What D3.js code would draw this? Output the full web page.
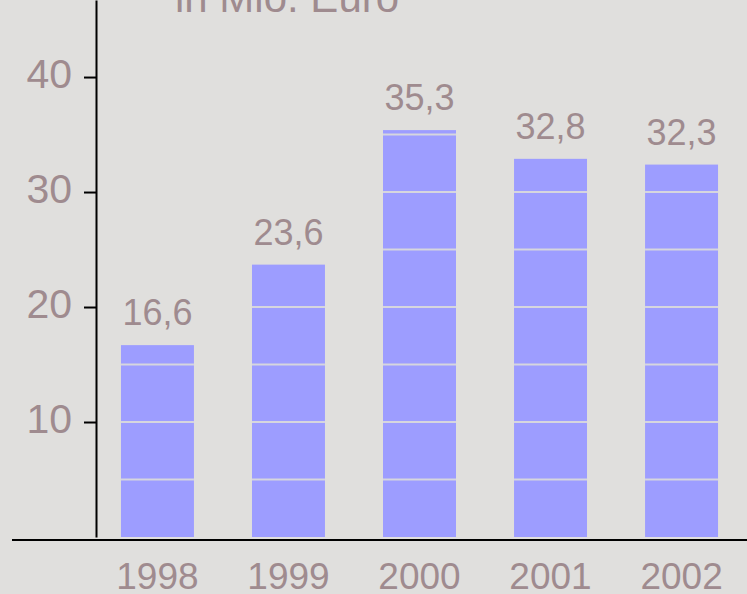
<!DOCTYPE html>
<html>
<head>
<meta charset="utf-8">
<script src="https://cdn.jsdelivr.net/npm/d3@7"></script>
<style>
  html, body { margin: 0; padding: 0; background: #e0dfdd; }
  svg { display: block; font-family: "Liberation Sans", Arial, sans-serif; }
</style>
</head>
<body>
<svg id="chart" width="747" height="594"></svg>
<script>

var years = ["1998", "1999", "2000", "2001", "2002"];
var values = [16.6, 23.6, 35.3, 32.8, 32.3];
var y_ticks = [10, 20, 30, 40];
var grid_steps = [5, 10, 15, 20, 25, 30, 35, 40, 45];
var title = "in Mio. Euro";

var text_color = "#9f8b8f";
var bar_color = "#9d9dff";

var svg = d3.select("#chart");

var x = d3.scaleBand().domain(years).range([92, 747])
    .paddingInner(0.443).paddingOuter(0.221);

var y = d3.scaleLinear().domain([0, 46.7]).range([537, 0]);

var comma = d3.formatLocale({decimal: ",", thousands: ".", grouping: [3], currency: ["", " €"]}).format(".1f");

// bars
svg.append("g").selectAll("rect")
    .data(values)
    .enter().append("rect")
    .attr("x", function(d, i) { return x(years[i]); })
    .attr("y", function(d) { return y(d) - 1; })
    .attr("width", x.bandwidth())
    .attr("height", function(d) { return y(0) - y(d) + 1; })
    .attr("fill", bar_color);

// light lines every 5 units, only over the bars
var grid = svg.append("g");
values.forEach(function(v, i) {
    grid.selectAll(null)
	.data(grid_steps.filter(function(s) { return s < v; }))
	.enter().append("line")
	.attr("x1", x(years[i]))
	.attr("x2", x(years[i]) + x.bandwidth())
	.attr("y1", function(s) { return y(s); })
	.attr("y2", function(s) { return y(s); })
	.attr("stroke", "#d6d6de")
	.attr("stroke-width", 2);
});

// value labels
svg.append("g").selectAll("text")
    .data(values)
    .enter().append("text")
    .attr("x", function(d, i) { return x(years[i]) + x.bandwidth() / 2; })
    .attr("y", function(d) { return y(d) - 21; })
    .attr("text-anchor", "middle")
    .attr("font-size", 36)
    .attr("fill", text_color)
    .text(function(d) { return comma(d); });

// y axis
var y_axis = svg.append("g")
    .attr("transform", "translate(96,0)")
    .call(d3.axisLeft(y).tickValues(y_ticks).tickSize(12).tickSizeOuter(0).tickPadding(12));

y_axis.select(".domain").attr("stroke", "#000").attr("stroke-width", 2);
y_axis.selectAll(".tick line").attr("stroke", "#000").attr("stroke-width", 2);
y_axis.selectAll(".tick text")
    .attr("font-size", 41)
    .attr("font-family", "Liberation Sans, Arial, sans-serif")
    .attr("fill", text_color)
    .attr("dy", 10);

// x axis
var x_axis = svg.append("g")
    .attr("transform", "translate(0,540)")
    .call(d3.axisBottom(x).tickSize(0).tickPadding(0));

x_axis.select(".domain").remove();
x_axis.append("line")
    .attr("x1", 12).attr("x2", 747)
    .attr("stroke", "#000").attr("stroke-width", 2);
x_axis.selectAll(".tick text")
    .attr("font-size", 37)
    .attr("font-family", "Liberation Sans, Arial, sans-serif")
    .attr("fill", text_color)
    .attr("dy", 49);

// title, cut off at the top edge
svg.append("text")
    .attr("x", 175)
    .attr("y", 12)
    .attr("font-size", 42)
    .attr("fill", text_color)
    .text(title);

</script>
</body>
</html>
